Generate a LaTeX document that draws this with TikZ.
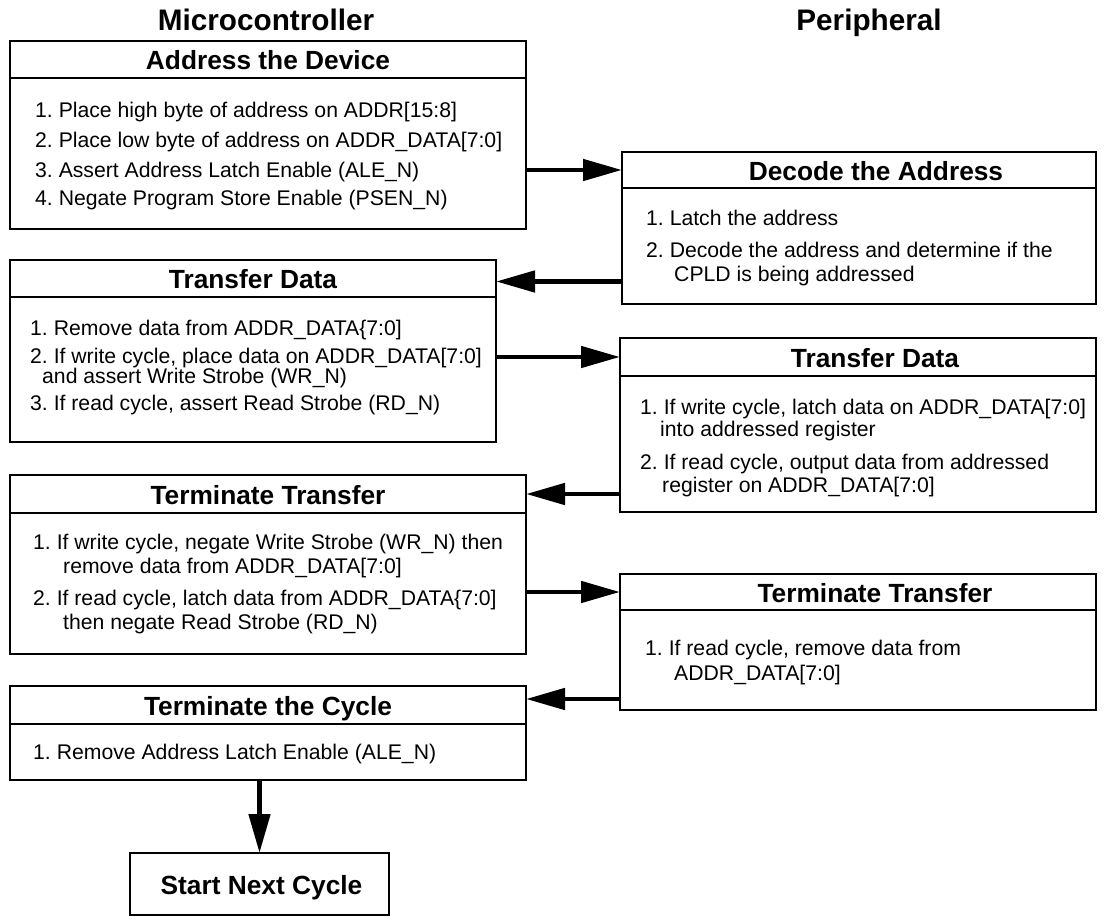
\documentclass[tikz,border=0pt]{standalone}
\usepackage{fontspec}
\setmainfont{Liberation Sans}
\usetikzlibrary{positioning,calc,arrows.meta}
\frenchspacing

\begin{document}
\begin{tikzpicture}[
            x=1pt, y=-1pt,
            box/.style={draw, line width=2.6pt, outer sep=0pt, inner sep=0pt, anchor=north west},
            hdrtext/.style={font=\fontsize{26.3}{30}\selectfont\bfseries, inner sep=0pt, text height=19pt, text depth=0pt},
            title/.style={font=\fontsize{29.7}{34}\selectfont\bfseries, inner sep=0pt, text height=21pt, text depth=0pt},
            item/.style={font=\fontsize{21.2}{24}\selectfont, inner sep=0pt, anchor=base west},
            flow/.style={line width=4.8pt, -{Triangle[length=39pt,width=21pt]}}
        ]
        \useasboundingbox (0,0) rectangle (1104,917);

        % Column titles
        \node[title] (mctitle) at (266,20) {Microcontroller};
        \node[title] (pertitle) at (869,20) {Peripheral};

        % Address the Device
        \node[box, minimum width=516pt, minimum height=37pt] (addrh) at (10,41) {};
        \node[box, minimum width=516pt, minimum height=151pt] (addrb) at (10,78) {};
        \node[hdrtext] (addrt) at ($(addrh.center)+(0,1)$) {Address the Device};
        \node[item] (addr1) at ($(addrb.north west)+(25,39.5)$) {1. Place high byte of address on ADDR[15:8]};
        \node[item] (addr2) at ($(addrb.north west)+(25,69.5)$) {2. Place low byte of address on ADDR\_DATA[7:0]};
        \node[item] (addr3) at ($(addrb.north west)+(25,99.5)$) {3. Assert Address Latch Enable (ALE\_N)};
        \node[item] (addr4) at ($(addrb.north west)+(25,127.5)$) {4. Negate Program Store Enable (PSEN\_N)};

        % Decode the Address
        \node[box, minimum width=474pt, minimum height=36pt] (dech) at (622,152) {};
        \node[box, minimum width=474pt, minimum height=116pt] (decb) at (622,188) {};
        \node[hdrtext] (dect) at ($(dech.center)+(17,1)$) {Decode the Address};
        \node[item] (dec1) at ($(decb.north west)+(24,37.5)$) {1. Latch the address};
        \node[item] (dec2) at ($(decb.north west)+(24,69.5)$) {2. Decode the address and determine if the};
        \node[item] (dec2b) at ($(dec2.base west)+(28,24)$) {CPLD is being addressed};

        % Transfer Data (microcontroller)
        \node[box, minimum width=486pt, minimum height=37pt] (tdlh) at (10,260) {};
        \node[box, minimum width=486pt, minimum height=145pt] (tdlb) at (10,297) {};
        \node[hdrtext] (tdlt) at ($(tdlh.center)+(0,1)$) {Transfer Data};
        \node[item] (tdl1) at ($(tdlb.north west)+(20,38.5)$) {1. Remove data from ADDR\_DATA\{7:0]};
        \node[item] (tdl2) at ($(tdlb.north west)+(20,66.5)$) {2. If write cycle, place data on ADDR\_DATA[7:0]};
        \node[item] (tdl2b) at ($(tdl2.base west)+(12,20)$) {and assert Write Strobe (WR\_N)};
        \node[item] (tdl3) at ($(tdlb.north west)+(20,113.5)$) {3. If read cycle, assert Read Strobe (RD\_N)};

        % Transfer Data (peripheral)
        \node[box, minimum width=476pt, minimum height=38pt] (tdrh) at (620,338) {};
        \node[box, minimum width=476pt, minimum height=136pt] (tdrb) at (620,376) {};
        \node[hdrtext] (tdrt) at ($(tdrh.center)+(17,1)$) {Transfer Data};
        \node[item] (tdr1) at ($(tdrb.north west)+(20,38.5)$) {1. If write cycle, latch data on ADDR\_DATA[7:0]};
        \node[item] (tdr1b) at ($(tdr1.base west)+(20,22)$) {into addressed register};
        \node[item] (tdr2) at ($(tdrb.north west)+(20,93.5)$) {2. If read cycle, output data from addressed};
        \node[item] (tdr2b) at ($(tdr2.base west)+(22,23)$) {register on ADDR\_DATA[7:0]};

        % Terminate Transfer (microcontroller)
        \node[box, minimum width=516pt, minimum height=38pt] (ttlh) at (10,475) {};
        \node[box, minimum width=516pt, minimum height=141pt] (ttlb) at (10,513) {};
        \node[hdrtext] (ttlt) at ($(ttlh.center)+(0,1)$) {Terminate Transfer};
        \node[item] (ttl1) at ($(ttlb.north west)+(23,36.5)$) {1. If write cycle, negate Write Strobe (WR\_N) then};
        \node[item] (ttl1b) at ($(ttl1.base west)+(30,24)$) {remove data from ADDR\_DATA[7:0]};
        \node[item] (ttl2) at ($(ttlb.north west)+(23,92.5)$) {2. If read cycle, latch data from ADDR\_DATA\{7:0]};
        \node[item] (ttl2b) at ($(ttl2.base west)+(30,24)$) {then negate Read Strobe (RD\_N)};

        % Terminate Transfer (peripheral)
        \node[box, minimum width=476pt, minimum height=36pt] (ttrh) at (620,574) {};
        \node[box, minimum width=476pt, minimum height=100pt] (ttrb) at (620,610) {};
        \node[hdrtext] (ttrt) at ($(ttrh.center)+(17,1)$) {Terminate Transfer};
        \node[item] (ttr1) at ($(ttrb.north west)+(25,45.5)$) {1. If read cycle, remove data from};
        \node[item] (ttr1b) at ($(ttr1.base west)+(29,25)$) {ADDR\_DATA[7:0]};

        % Terminate the Cycle
        \node[box, minimum width=516pt, minimum height=38pt] (tcyh) at (10,686) {};
        \node[box, minimum width=516pt, minimum height=56pt] (tcyb) at (10,724) {};
        \node[hdrtext] (tcyt) at ($(tcyh.center)+(0,1)$) {Terminate the Cycle};
        \node[item] (tcy1) at ($(tcyb.north west)+(23,35.5)$) {1. Remove Address Latch Enable (ALE\_N)};

        % Start Next Cycle
        \node[box, minimum width=259pt, minimum height=62pt] (start) at (130,853) {};
        \node[hdrtext] (startt) at ($(start.center)+(2,1)$) {Start Next Cycle};

        % Arrows between the two sides
        \draw[flow] (addrb.east |- dech.west) -- (dech.west);
        \draw[flow] ($(decb.west |- tdlh.east)+(0,3)$) -- ($(tdlh.east)+(0,3)$);
        \draw[flow] (tdlb.east |- tdrh.west) -- (tdrh.west);
        \draw[flow] (tdrb.west |- ttlh.east) -- (ttlh.east);
        \draw[flow] (ttlb.east |- ttrh.west) -- (ttrh.west);
        \draw[flow] ($(ttrb.west |- tcyh.east)+(0,-6)$) -- ($(tcyh.east)+(0,-6)$);

        % Arrow to next cycle
        \draw[flow] (tcyb.south -| start.north) -- (start.north);

        \end{tikzpicture}
\end{document}
